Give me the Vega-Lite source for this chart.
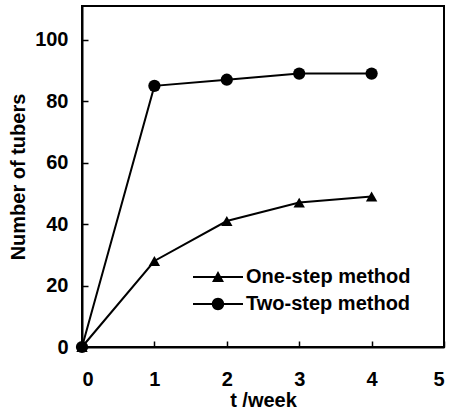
{
  "$schema": "https://vega.github.io/schema/vega-lite/v6.json",
  "width": 362,
  "height": 341,
  "autosize": "none",
  "padding": {"left": 82, "top": 6, "right": 10, "bottom": 64},
  "background": "white",
  "config": {
    "view": {"stroke": "black", "strokeWidth": 2},
    "font": "Liberation Sans"
  },
  "data": {
    "values": [
      {"week": 0, "tubers": 0, "method": "One-step method"},
      {"week": 1, "tubers": 28, "method": "One-step method"},
      {"week": 2, "tubers": 41, "method": "One-step method"},
      {"week": 3, "tubers": 47, "method": "One-step method"},
      {"week": 4, "tubers": 49, "method": "One-step method"},
      {"week": 0, "tubers": 0, "method": "Two-step method"},
      {"week": 1, "tubers": 85, "method": "Two-step method"},
      {"week": 2, "tubers": 87, "method": "Two-step method"},
      {"week": 3, "tubers": 89, "method": "Two-step method"},
      {"week": 4, "tubers": 89, "method": "Two-step method"}
    ]
  },
  "encoding": {
    "x": {
      "field": "week", "type": "quantitative",
      "scale": {"domain": [0, 5], "nice": false},
      "axis": {
        "title": "t /week", "values": [0, 1, 2, 3, 4, 5], "grid": false,
        "domainColor": "black", "domainWidth": 2, "tickColor": "black", "tickWidth": 1.5,
        "tickSize": -6, "labelPadding": 28, "labelFont": "Liberation Sans", "labelFontWeight": "bold",
        "labelFontSize": 20, "labelColor": "black", "titleFont": "Liberation Sans", "titleFontWeight": "bold",
        "titleFontSize": 20, "titleColor": "black", "titlePadding": 1
      }
    },
    "y": {
      "field": "tubers", "type": "quantitative",
      "scale": {"domain": [0, 111], "nice": false},
      "axis": {
        "title": "Number of tubers", "values": [0, 20, 40, 60, 80, 100], "grid": false,
        "domainColor": "black", "domainWidth": 2, "tickColor": "black", "tickWidth": 1.5,
        "tickSize": -6, "labelPadding": 20, "labelFont": "Liberation Sans", "labelFontWeight": "bold",
        "labelFontSize": 20, "labelColor": "black", "titleFont": "Liberation Sans", "titleFontWeight": "bold",
        "titleFontSize": 20, "titleColor": "black", "titlePadding": 6
      }
    }
  },
  "layer": [
    {
      "mark": {"type": "line", "color": "black", "strokeWidth": 2},
      "encoding": {"detail": {"field": "method"}}
    },
    {
      "transform": [{"filter": "datum.method === 'One-step method'"}],
      "mark": {"type": "point", "filled": true, "color": "black", "opacity": 1, "shape": "triangle-up", "size": 130}
    },
    {
      "transform": [{"filter": "datum.method === 'Two-step method'"}],
      "mark": {"type": "point", "filled": true, "color": "black", "opacity": 1, "shape": "circle", "size": 150}
    },
    {
      "mark": {"type": "point", "filled": true, "color": "black", "opacity": 0},
      "encoding": {
        "shape": {
          "field": "method", "type": "nominal",
          "scale": {"domain": ["One-step method", "Two-step method"], "range": ["M-2.5,-0.09H2.5V0.09H-2.5ZM-0.6,0.5L0,-0.6L0.6,0.5Z", "M-2.5,-0.09H2.5V0.09H-2.5ZM-0.62,0A0.62,0.62 0 1,1 0.62,0A0.62,0.62 0 1,1 -0.62,0Z"]},
          "legend": {
            "title": null, "orient": "none", "legendX": 126, "legendY": 261,
            "symbolSize": 400, "symbolFillColor": "black", "symbolStrokeWidth": 0,
            "symbolOpacity": 1, "labelFont": "Liberation Sans", "labelFontSize": 20, "labelLimit": 300,
            "labelFontWeight": "bold", "labelColor": "black", "labelOffset": 18, "rowPadding": 7
          }
        }
      }
    }
  ]
}
